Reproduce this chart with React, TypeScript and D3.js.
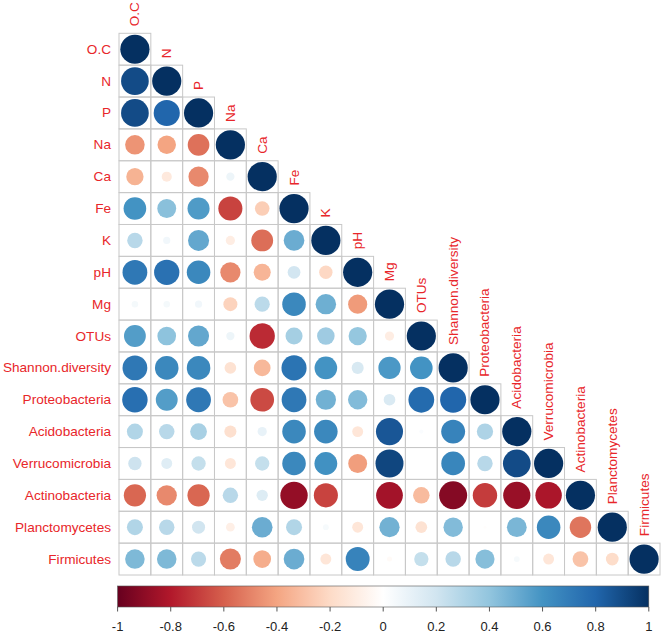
import React from "react";
import * as d3 from "d3";

const variables = [
  "O.C", "N", "P", "Na", "Ca", "Fe", "K", "pH", "Mg", "OTUs",
  "Shannon.diversity", "Proteobacteria", "Acidobacteria", "Verrucomicrobia",
  "Actinobacteria", "Planctomycetes", "Firmicutes",
];

// lower triangle of the correlation matrix, row i has i+1 values
const corrLower: number[][] = [
  [1],
  [0.9, 1],
  [0.9, 0.8, 1],
  [-0.45, -0.4, -0.55, 1],
  [-0.35, -0.12, -0.48, 0.08, 1],
  [0.6, 0.42, 0.57, -0.68, -0.25, 1],
  [0.28, 0.06, 0.52, -0.1, -0.56, 0.5, 1],
  [0.72, 0.75, 0.65, -0.48, -0.34, 0.19, -0.21, 1],
  [0.05, 0.05, 0.06, -0.23, 0.27, 0.65, 0.49, -0.43, 1],
  [0.56, 0.41, 0.52, 0.08, -0.75, 0.34, 0.36, 0.39, -0.1, 1],
  [0.72, 0.65, 0.65, -0.16, -0.33, 0.74, 0.6, 0.17, 0.58, 0.6, 1],
  [0.76, 0.56, 0.72, -0.29, -0.66, 0.72, 0.48, 0.44, 0.16, 0.78, 0.8, 1],
  [0.3, 0.28, 0.33, -0.17, 0.1, 0.65, 0.65, -0.14, 0.86, 0.02, 0.67, 0.31, 1],
  [0.21, 0.14, 0.24, -0.14, 0.24, 0.65, 0.61, -0.42, 0.92, 0.0, 0.66, 0.28, 0.9, 1],
  [-0.58, -0.48, -0.58, 0.28, 0.15, -0.88, -0.68, 0.0, -0.84, -0.32, -0.92, -0.7, -0.87, -0.82, 1],
  [0.3, 0.28, 0.2, -0.09, 0.5, 0.3, 0.04, -0.14, 0.48, -0.16, 0.44, -0.01, 0.46, 0.65, -0.54, 1],
  [0.45, 0.45, 0.27, -0.52, -0.37, 0.5, -0.14, 0.67, -0.03, 0.24, 0.28, 0.43, 0.04, -0.14, -0.29, -0.19, 1],
];

const paletteStops = [
  "#67001F", "#B2182B", "#D6604D", "#F4A582", "#FDDBC7", "#FFFFFF",
  "#D1E5F0", "#92C5DE", "#4393C3", "#2166AC", "#053061",
];

const legendTicks = [-1, -0.8, -0.6, -0.4, -0.2, 0, 0.2, 0.4, 0.6, 0.8, 1];

const LABEL_COL = "#e8262a";
const GRID_COL = "#c8c8c8";

export default function App() {
  const W = 664;
  const H = 637;
  const x = d3.scaleBand<string>().domain(variables).range([119, 660]).padding(0);
  const y = d3.scaleBand<string>().domain(variables).range([33.3, 575]).padding(0);
  const color = d3
    .scaleLinear<string>()
    .domain(d3.range(paletteStops.length).map((i) => -1 + (2 * i) / (paletteStops.length - 1)))
    .range(paletteStops)
    .interpolate(d3.interpolateRgb);
  const rMax = 14.6;
  const radius = (v: number) => rMax * Math.sqrt(Math.abs(v));
  const lx = d3.scaleLinear().domain([-1, 1]).range([117.6, 648.8]);
  const gradStops = d3.range(0, 1.0001, 0.05);

  const cells: React.ReactNode[] = [];
  const circles: React.ReactNode[] = [];
  corrLower.forEach((row, i) => {
    row.forEach((v, j) => {
      const cx = x(variables[j])!;
      const cy = y(variables[i])!;
      cells.push(
        <rect key={`g${i}-${j}`} x={cx} y={cy} width={x.bandwidth()} height={y.bandwidth()}
          fill="none" stroke={GRID_COL} strokeWidth={1} />
      );
      circles.push(
        <circle key={`c${i}-${j}`} cx={cx + x.bandwidth() / 2} cy={cy + y.bandwidth() / 2}
          r={radius(v)} fill={color(v)} />
      );
    });
  });

  const fmt = (v: number) => String(+v.toFixed(1));

  return (
    <svg width={W} height={H} style={{ position: "absolute", left: 0, top: 0, background: "#fff" }}
      fontFamily="Liberation Sans, Arial, sans-serif">
      <defs>
        <linearGradient id="cbar" x1="0" x2="1" y1="0" y2="0">
          {gradStops.map((t) => (
            <stop key={t} offset={t} stopColor={color(-1 + 2 * t)} />
          ))}
        </linearGradient>
      </defs>
      <rect width={W} height={H} fill="#fff" />
      {cells}
      {circles}
      {variables.map((name) => (
        <text key={`rl-${name}`} x={111} y={y(name)! + y.bandwidth() / 2}
          textAnchor="end" dominantBaseline="central" fontSize={13.6} fill={LABEL_COL}>
          {name}
        </text>
      ))}
      {variables.map((name) => {
        const tx = x(name)! + x.bandwidth() / 2;
        const ty = y(name)! - 7;
        return (
          <text key={`cl-${name}`} transform={`translate(${tx},${ty}) rotate(-90)`}
            textAnchor="start" dominantBaseline="central" fontSize={13.6} fill={LABEL_COL}>
            {name}
          </text>
        );
      })}
      <rect x={lx(-1)} y={586} width={lx(1) - lx(-1)} height={21} fill="url(#cbar)"
        stroke="#555" strokeWidth={0.6} />
      {legendTicks.map((t) => (
        <g key={`t${t}`}>
          <line x1={lx(t)} x2={lx(t)} y1={607} y2={611.5} stroke="#555" strokeWidth={1} />
          <text x={lx(t)} y={626} textAnchor="middle" dominantBaseline="central" fontSize={13}
            fill="#222">
            {fmt(t)}
          </text>
        </g>
      ))}
    </svg>
  );
}
